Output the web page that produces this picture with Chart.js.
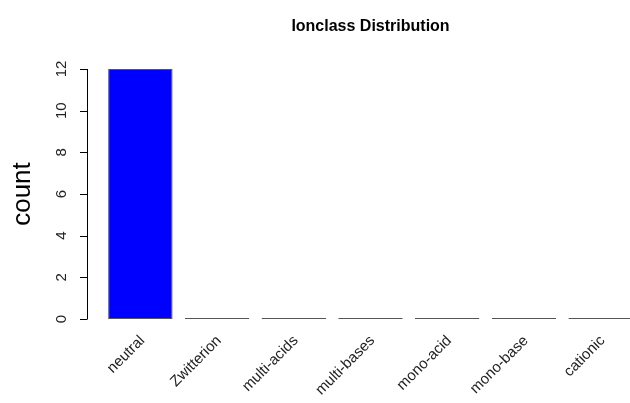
<!DOCTYPE html>
<html>
<head>
<meta charset="utf-8">
<script src="https://cdn.jsdelivr.net/npm/chart.js@4/dist/chart.umd.min.js"></script>
<style>
  html, body { margin: 0; padding: 0; background: #fff; overflow: hidden; }
  #wrap { width: 640px; height: 403px; }
</style>
</head>
<body>
<div id="wrap"><canvas id="myChart"></canvas></div>
<script>
const categorie = ["neutral", "Zwitterion", "multi-acids", "multi-bases", "mono-acid", "mono-base", "cationic"];
const conteggi = [12, 0, 0, 0, 0, 0, 0];
const tickY = [0, 2, 4, 6, 8, 10, 12];
const titolo = "Ionclass Distribution";
const etichettaY = "count";

const FONT = "'Liberation Sans', Arial, sans-serif";

// asse y e titolo disegnati alla maniera di R
const assiR = {
  id: "assiR",
  afterDraw(chart) {
    const ctx = chart.ctx;
    const area = chart.chartArea;
    const y = chart.scales.y;
    const xAsse = area.left - 15;

    ctx.save();
    ctx.strokeStyle = "#000";
    ctx.lineWidth = 1;
    ctx.beginPath();
    ctx.moveTo(xAsse + 0.5, y.getPixelForValue(tickY[0]));
    ctx.lineTo(xAsse + 0.5, y.getPixelForValue(tickY[tickY.length - 1]));
    tickY.forEach((v) => {
      const py = Math.round(y.getPixelForValue(v)) + 0.5;
      ctx.moveTo(xAsse - 7, py);
      ctx.lineTo(xAsse + 0.5, py);
    });
    ctx.stroke();

    ctx.fillStyle = "#222";
    ctx.font = "15px " + FONT;
    ctx.textAlign = "center";
    ctx.textBaseline = "middle";
    tickY.forEach((v) => {
      ctx.save();
      ctx.translate(xAsse - 25, y.getPixelForValue(v));
      ctx.rotate(-Math.PI / 2);
      ctx.fillText(String(v), 0, 0);
      ctx.restore();
    });

    ctx.fillStyle = "#000";
    ctx.font = "26px " + FONT;
    ctx.save();
    ctx.translate(23, (y.getPixelForValue(0) + y.getPixelForValue(12)) / 2);
    ctx.rotate(-Math.PI / 2);
    ctx.fillText(etichettaY, 0, 0);
    ctx.restore();

    ctx.font = "bold 16px " + FONT;
    ctx.fillText(titolo, (area.left + area.right) / 2, 27);
    ctx.restore();
  },
};

const config = {
  type: "bar",
  data: {
    labels: categorie,
    datasets: [
      {
        label: "count",
        data: conteggi,
        backgroundColor: "#0000ff",
        borderColor: "#555",
        borderWidth: 1,
        borderSkipped: false,
        minBarLength: 1,
        barPercentage: 0.84,
        categoryPercentage: 1,
      },
    ],
  },
  options: {
    responsive: true,
    maintainAspectRatio: false,
    animation: false,
    layout: { padding: { top: 69, left: 102, right: 1, bottom: 0 } },
    plugins: {
      legend: { display: false },
      title: { display: false },
      tooltip: { enabled: false },
    },
    scales: {
      x: {
        grid: { display: false, drawTicks: false },
        border: { display: false },
        ticks: {
          color: "#222",
          font: { family: FONT, size: 15 },
          minRotation: 45,
          maxRotation: 45,
          padding: 13,
          labelOffset: 2,
          autoSkip: false,
        },
        afterFit(scale) {
          scale.height = 84;
        },
      },
      y: {
        display: false,
        min: 0,
        max: 12,
        ticks: { stepSize: 2 },
      },
    },
  },
  plugins: [assiR],
};

const myChart = new Chart(document.getElementById("myChart"), config);
</script>
</body>
</html>
